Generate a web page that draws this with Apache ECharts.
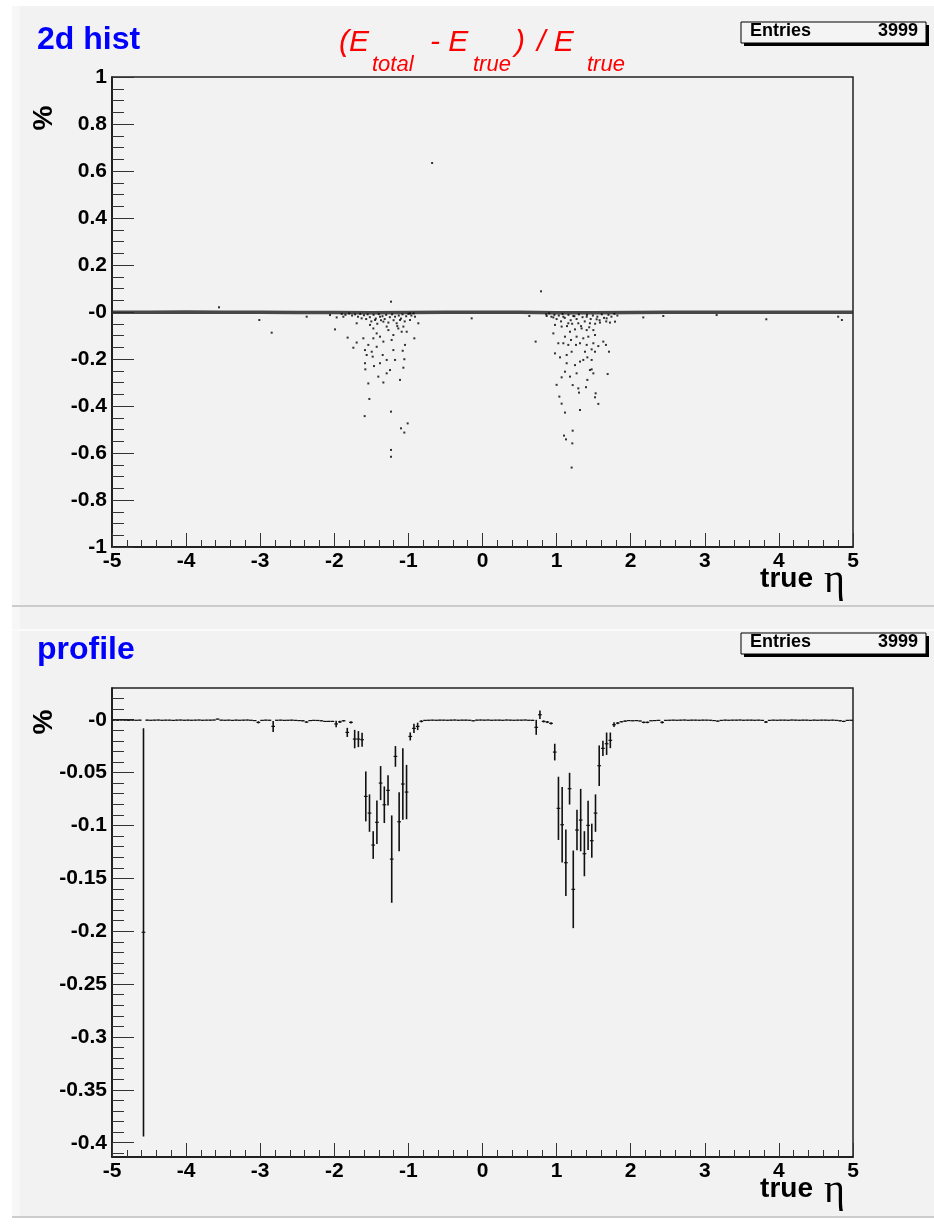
<!DOCTYPE html>
<html>
<head>
<meta charset="utf-8">
<title>2d hist / profile</title>
<script src="https://cdn.jsdelivr.net/npm/echarts@6/dist/echarts.min.js"></script>
<style>
  html, body { margin: 0; padding: 0; background: #ffffff; }
  #chart { width: 934px; height: 1224px; }
</style>
</head>
<body>
<div id="chart"></div>
<script>
// ---- data ----

// profile binning: 200 bins in true eta from -5 to 5
var etaLow = -5;
var binWidth = 0.05;

// profile mean per bin (20 bins per row)
var profileMean = [
  -0.0004,-0.0005,-0.0003,-0.0004,-0.0006,-0.0004,-0.0005,-0.0004,-0.2010,-0.0004,-0.0005,-0.0004,-0.0003,-0.0005,-0.0004,-0.0004,-0.0006,-0.0004,-0.0003,-0.0005,
  -0.0004,-0.0005,-0.0004,-0.0003,-0.0005,-0.0004,-0.0004,-0.0003, 0.0006,-0.0004,-0.0005,-0.0004,-0.0006,-0.0004,-0.0005,-0.0004,-0.0003,-0.0005,-0.0008,-0.0025,
  -0.0006,-0.0004,-0.0005,-0.0063,-0.0005,-0.0004,-0.0006,-0.0005,-0.0004,-0.0006,-0.0008,-0.0010,-0.0022,-0.0008,-0.0006,-0.0007,-0.0010,-0.0016,-0.0016,-0.0016,
  -0.0040,-0.0020,-0.0010,-0.0120,-0.0025,-0.0183,-0.0183,-0.0189,-0.0725,-0.0883,-0.1185,-0.0970,-0.0599,-0.0804,-0.0668,-0.1318,-0.0347,-0.0965,-0.0608,-0.0684,
  -0.0158,-0.0082,-0.0063,-0.0015,-0.0006,-0.0005,-0.0004,-0.0005,-0.0004,-0.0004,-0.0005,-0.0004,-0.0003,-0.0005,-0.0004,-0.0004,-0.0005,-0.0010,-0.0004,-0.0003,
  -0.0004,-0.0003,-0.0005,-0.0004,-0.0004,-0.0005,-0.0003,-0.0004,-0.0005,-0.0004,-0.0004,-0.0003,-0.0005,-0.0006,-0.0072, 0.0047,-0.0016,-0.0022,-0.0035,-0.0306,
  -0.0838,-0.0993,-0.1352,-0.0652,-0.1604,-0.1043,-0.0949,-0.1267,-0.0999,-0.1144,-0.0883,-0.0435,-0.0271,-0.0227,-0.0195,-0.0047,-0.0032,-0.0019,-0.0013,-0.0008,
  -0.0010,-0.0008,-0.0012,-0.0025,-0.0025,-0.0010,-0.0008,-0.0006,-0.0025,-0.0006,-0.0005,-0.0004,-0.0005,-0.0004,-0.0003,-0.0005,-0.0004,-0.0004,-0.0005,-0.0004,
  -0.0004,-0.0005,-0.0008,-0.0013,-0.0006,-0.0004,-0.0005,-0.0004,-0.0004,-0.0003,-0.0005,-0.0004,-0.0004,-0.0005,-0.0004,-0.0006,-0.0022,-0.0006,-0.0004,-0.0005,
  -0.0004,-0.0004,-0.0005,-0.0003,-0.0004,-0.0005,-0.0004,-0.0004,-0.0006,-0.0004,-0.0005,-0.0004,-0.0004,-0.0005,-0.0004,-0.0006,-0.0010,-0.0016,-0.0006,-0.0005
];

// error on the mean per bin
var profileErr = [
  0.0003,0.0003,0.0003,0.0003,0.0003,0.0003,0.0003,0.0003,0.1930,0.0003,0.0003,0.0003,0.0003,0.0003,0.0003,0.0003,0.0003,0.0003,0.0003,0.0003,
  0.0003,0.0003,0.0003,0.0003,0.0003,0.0003,0.0003,0.0003,0.0003,0.0003,0.0003,0.0003,0.0003,0.0003,0.0003,0.0003,0.0003,0.0003,0.0003,0.0010,
  0.0003,0.0003,0.0003,0.0052,0.0003,0.0003,0.0003,0.0003,0.0003,0.0003,0.0004,0.0004,0.0008,0.0004,0.0003,0.0003,0.0004,0.0005,0.0005,0.0005,
  0.0030,0.0010,0.0006,0.0043,0.0010,0.0087,0.0076,0.0066,0.0236,0.0177,0.0131,0.0205,0.0161,0.0173,0.0142,0.0413,0.0098,0.0279,0.0339,0.0257,
  0.0038,0.0044,0.0035,0.0010,0.0003,0.0003,0.0003,0.0003,0.0003,0.0003,0.0003,0.0003,0.0003,0.0003,0.0003,0.0003,0.0003,0.0004,0.0003,0.0003,
  0.0003,0.0003,0.0003,0.0003,0.0003,0.0003,0.0003,0.0003,0.0003,0.0003,0.0003,0.0003,0.0003,0.0005,0.0071,0.0041,0.0010,0.0010,0.0010,0.0079,
  0.0299,0.0358,0.0315,0.0150,0.0367,0.0192,0.0295,0.0213,0.0232,0.0161,0.0177,0.0192,0.0071,0.0106,0.0074,0.0022,0.0010,0.0006,0.0005,0.0004,
  0.0003,0.0003,0.0003,0.0008,0.0008,0.0003,0.0003,0.0003,0.0010,0.0003,0.0003,0.0003,0.0003,0.0003,0.0003,0.0003,0.0003,0.0003,0.0003,0.0003,
  0.0003,0.0003,0.0003,0.0005,0.0003,0.0003,0.0003,0.0003,0.0003,0.0003,0.0003,0.0003,0.0003,0.0003,0.0003,0.0003,0.0010,0.0003,0.0003,0.0003,
  0.0003,0.0003,0.0003,0.0003,0.0003,0.0003,0.0003,0.0003,0.0003,0.0003,0.0003,0.0003,0.0003,0.0003,0.0003,0.0003,0.0004,0.0006,0.0003,0.0003
];

// 2d hist: the dense core of entries sitting on zero
var bandEta = [-5, -4.5, -4, -3.5, -3, -2.5, -2, -1.5, -1, -0.5, 0, 0.5, 1, 1.5, 2, 2.5, 3, 3.5, 4, 4.5, 5];
var bandVal = [-0.001, -0.001, 0, -0.001, -0.001, -0.002, -0.002, -0.003, -0.002, -0.001, -0.001, -0.001, -0.003, -0.003, -0.002, -0.001, -0.001, -0.001, -0.001, -0.001, -0.001];

// 2d hist: entries away from the core [eta, value]
var scatterPts = [
  [-0.68, 0.634], [0.79, 0.088], [-1.235, 0.044], [-3.556, 0.02], [-3.012, -0.034], [-2.845, -0.088],
  [-2.373, -0.02], [-1.991, -0.074], [-0.146, -0.027], [-0.92, -0.112], [-1.82, -0.109],
  [-1.743, -0.152], [-1.698, -0.13], [-1.586, -0.162], [-1.563, -0.183], [-1.581, -0.244], [-1.541, -0.304],
  [-1.527, -0.37], [-1.59, -0.443], [-1.235, -0.424], [-1.235, -0.587], [-1.235, -0.616], [-1.1, -0.495],
  [-1.055, -0.513], [-1.01, -0.474], [-1.068, -0.237], [-1.055, -0.201], [-1.113, -0.289], [-1.338, -0.3],
  [-1.293, -0.261], [-1.406, -0.275], [-1.464, -0.23], [-1.482, -0.19], [-1.347, -0.183], [-1.293, -0.204],
  [-1.203, -0.162], [-1.077, -0.165], [-1.046, -0.14], [-1.541, -0.14], [-1.608, -0.112], [-1.473, -0.112],
  [-1.428, -0.091], [-1.338, -0.126], [-1.226, -0.119], [-1.203, -0.098], [-1.091, -0.084], [-1.023, -0.084],
  [-1.338, -0.041], [-1.293, -0.062], [-1.158, -0.048], [-1.113, -0.034], [-1.068, -0.062], [-1.383, -0.02],
  [-1.45, -0.034], [-1.518, -0.055], [-1.631, -0.027], [-1.698, -0.048], [-1.878, -0.02], [-1.968, -0.023],
  [-2.058, -0.013], [-0.978, -0.034], [-0.866, -0.048], [-0.911, -0.02], [-1.473, -0.07], [-1.428, -0.148],
  [-1.383, -0.105], [-1.495, -0.169], [-1.586, -0.218], [-1.248, -0.247], [-1.18, -0.204], [-1.383, -0.218],
  [-1.27, -0.077], [-1.136, -0.07], [-0.978, -0.006],
  [-1.9, -0.008], [-1.85, -0.012], [-1.8, -0.006], [-1.76, -0.015], [-1.72, -0.01], [-1.68, -0.02],
  [-1.65, -0.008], [-1.6, -0.014], [-1.57, -0.03], [-1.55, -0.01], [-1.52, -0.022], [-1.5, -0.04],
  [-1.47, -0.012], [-1.44, -0.028], [-1.42, -0.05], [-1.4, -0.009], [-1.37, -0.035], [-1.35, -0.018],
  [-1.32, -0.03], [-1.3, -0.012], [-1.27, -0.045], [-1.25, -0.022], [-1.22, -0.01], [-1.2, -0.035],
  [-1.18, -0.02], [-1.15, -0.06], [-1.13, -0.015], [-1.1, -0.028], [-1.08, -0.01], [-1.05, -0.04],
  [-1.03, -0.018], [-1.0, -0.008], [-0.96, -0.015], [-0.93, -0.006],
  [0.717, -0.126], [0.956, -0.091], [0.978, -0.176], [1.0, -0.31], [1.037, -0.36], [1.068, -0.39],
  [1.113, -0.428], [1.1, -0.526], [1.127, -0.542], [1.217, -0.505], [1.212, -0.559], [1.203, -0.662],
  [1.316, -0.417], [1.302, -0.343], [1.293, -0.325], [1.397, -0.32], [1.415, -0.289], [1.527, -0.346],
  [1.518, -0.363], [1.563, -0.391], [1.689, -0.264], [1.707, -0.169], [1.666, -0.14], [1.63, -0.126],
  [1.473, -0.244], [1.496, -0.261], [1.45, -0.247], [1.217, -0.311], [1.181, -0.275], [1.068, -0.278],
  [1.113, -0.254], [1.27, -0.261], [1.136, -0.218], [1.248, -0.226], [1.316, -0.211], [1.36, -0.204],
  [1.415, -0.193], [1.473, -0.204], [1.046, -0.193], [1.136, -0.183], [1.203, -0.169], [1.383, -0.169],
  [1.473, -0.159], [1.518, -0.169], [1.563, -0.145], [1.496, -0.133], [1.406, -0.14], [1.316, -0.133],
  [1.262, -0.14], [1.158, -0.14], [1.091, -0.133], [1.023, -0.133], [1.113, -0.105], [1.194, -0.119],
  [1.27, -0.105], [1.36, -0.112], [1.428, -0.105], [1.518, -0.098], [1.496, -0.077], [1.406, -0.077],
  [1.338, -0.07], [1.248, -0.074], [1.181, -0.084], [1.068, -0.062], [0.978, -0.055], [1.158, -0.048],
  [1.293, -0.048], [1.45, -0.048], [1.585, -0.045], [1.72, -0.045], [1.788, -0.041], [1.675, -0.027],
  [1.54, -0.031], [1.406, -0.02], [1.226, -0.017], [1.091, -0.02], [0.956, -0.023], [0.866, -0.017],
  [0.632, -0.017], [2.17, -0.023], [2.44, -0.017], [3.83, -0.031], [4.85, -0.034], [4.8, -0.02], [3.16, -0.013],
  [0.86, -0.01], [0.9, -0.006], [0.93, -0.02], [0.97, -0.012], [1.0, -0.03], [1.03, -0.015],
  [1.06, -0.04], [1.08, -0.008], [1.11, -0.025], [1.14, -0.06], [1.16, -0.012], [1.19, -0.035],
  [1.21, -0.05], [1.24, -0.018], [1.27, -0.03], [1.3, -0.01], [1.33, -0.06], [1.35, -0.022],
  [1.38, -0.04], [1.41, -0.012], [1.44, -0.065], [1.46, -0.03], [1.49, -0.015], [1.52, -0.05],
  [1.55, -0.02], [1.58, -0.035], [1.61, -0.01], [1.64, -0.025], [1.67, -0.04], [1.7, -0.012],
  [1.74, -0.02], [1.78, -0.008], [1.82, -0.015]
];

// tick labels of the profile y axis
var profileMajorTicks = [0, -0.05, -0.1, -0.15, -0.2, -0.25, -0.3, -0.35, -0.4];
var entries = 3999;

// ---- chart ----
var FONT = '"Liberation Sans", Arial, Helvetica, sans-serif';
var chart = echarts.init(document.getElementById('chart'));

// minor ticks every 0.01 between the labelled ones
var profileMinorTicks = [];
for (var k = 2; k >= -41; k--) {
  if (k % 5 !== 0) profileMinorTicks.push(k / 100);
}

var bandData = bandEta.map(function (x, i) { return [x, bandVal[i]]; });
var profileData = profileMean.map(function (m, i) {
  return [etaLow + (i + 0.5) * binWidth, m, profileErr[i]];
});

function xAxisFor(gi) {
  return {
    type: 'value', gridIndex: gi, position: 'bottom', min: -5, max: 5, interval: 1,
    axisLine: { onZero: false, lineStyle: { color: '#111', width: 1.5 } },
    axisTick: { inside: true, length: 14, lineStyle: { color: '#333', width: 1 } },
    minorTick: { show: true, splitNumber: 5, length: 7, lineStyle: { color: '#333', width: 1 } },
    axisLabel: { color: '#000', fontFamily: FONT, fontWeight: 'bold', fontSize: 21, margin: 4 },
    splitLine: { show: false }
  };
}

function profileLabel(v) {
  if (Math.abs(v) < 1e-9) return '-0';
  return String(parseFloat(v.toFixed(2)));
}

// pieces of a red title with subscripts
function redText(x, y, text, sub) {
  return {
    type: 'text', x: x, y: y, z: 10,
    style: { text: text, font: 'italic ' + (sub ? 22 : 30) + 'px ' + FONT, fill: '#ff0000', verticalAlign: 'middle' }
  };
}

function statBox(top) {
  return [
    { type: 'rect', shape: { x: 744, y: top + 3, width: 185, height: 21 }, style: { fill: '#000' }, z: 10 },
    { type: 'rect', shape: { x: 741, y: top, width: 185, height: 21 }, style: { fill: '#f4f4f4', stroke: '#000', lineWidth: 1 }, z: 11 },
    { type: 'text', x: 750, y: top + 9, style: { text: 'Entries', font: 'bold 18px ' + FONT, fill: '#000', verticalAlign: 'middle' }, z: 12 },
    { type: 'text', x: 918, y: top + 9, style: { text: String(entries), font: 'bold 18px ' + FONT, fill: '#000', align: 'right', verticalAlign: 'middle' }, z: 12 }
  ];
}

function etaTitle(y) {
  return [
    { type: 'text', x: 813, y: y, style: { text: 'true', font: 'bold 28px ' + FONT, fill: '#000', align: 'right', verticalAlign: 'middle' }, z: 10 },
    { type: 'text', x: 824, y: y + 2, style: { text: 'η', font: '40px "Liberation Serif", "DejaVu Serif", serif', fill: '#000', verticalAlign: 'middle' }, z: 10 }
  ];
}

var option = {
  animation: false,
  backgroundColor: '#ffffff',
  textStyle: { fontFamily: FONT },
  grid: [
    { left: 112, top: 77, width: 741, height: 470, show: true, borderColor: '#222', borderWidth: 1.5, backgroundColor: 'transparent' },
    { left: 112, top: 688, width: 741, height: 469, show: true, borderColor: '#222', borderWidth: 1.5, backgroundColor: 'transparent' }
  ],
  xAxis: [xAxisFor(0), xAxisFor(1)],
  yAxis: [
    {
      type: 'value', gridIndex: 0, position: 'left', min: -1, max: 1, interval: 0.2,
      axisLine: { onZero: false, lineStyle: { color: '#111', width: 1.5 } },
      axisTick: { inside: true, length: 22, lineStyle: { color: '#333', width: 1 } },
      minorTick: { show: true, splitNumber: 4, length: 12, lineStyle: { color: '#333', width: 1 } },
      axisLabel: {
        color: '#000', fontFamily: FONT, fontWeight: 'bold', fontSize: 21, margin: 5,
        formatter: function (v) { return Math.abs(v) < 1e-9 ? '-0' : String(parseFloat(v.toFixed(1))); }
      },
      splitLine: { show: false }
    },
    {
      type: 'value', gridIndex: 1, position: 'left', min: -0.4135, max: 0.03,
      axisLine: { onZero: false, lineStyle: { color: '#111', width: 1.5 } },
      axisTick: { inside: true, length: 22, customValues: profileMajorTicks, lineStyle: { color: '#333', width: 1 } },
      axisLabel: {
        color: '#000', fontFamily: FONT, fontWeight: 'bold', fontSize: 21, margin: 5,
        customValues: profileMajorTicks, formatter: profileLabel
      },
      splitLine: { show: false }
    },
    {
      type: 'value', gridIndex: 1, position: 'left', offset: 0, min: -0.4135, max: 0.03,
      axisLine: { show: false, onZero: false },
      axisTick: { inside: true, length: 12, customValues: profileMinorTicks, lineStyle: { color: '#333', width: 1 } },
      axisLabel: { show: false },
      splitLine: { show: false }
    }
  ],
  series: [
    {
      type: 'line', xAxisIndex: 0, yAxisIndex: 0, data: bandData,
      showSymbol: false, symbol: 'none',
      lineStyle: { color: '#2a2a2a', width: 3.5, opacity: 0.85 },
      z: 2
    },
    {
      type: 'scatter', xAxisIndex: 0, yAxisIndex: 0, data: scatterPts,
      symbol: 'rect', symbolSize: 2,
      itemStyle: { color: '#000' },
      z: 3
    },
    {
      type: 'custom', xAxisIndex: 1, yAxisIndex: 1, data: profileData,
      encode: { x: 0, y: 1 },
      clip: true,
      renderItem: function (params, api) {
        var c = api.value(0), m = api.value(1), e = api.value(2);
        var l = api.coord([c - binWidth / 2, m]);
        var r = api.coord([c + binWidth / 2, m]);
        var t = api.coord([c, m + e]);
        var b = api.coord([c, m - e]);
        return {
          type: 'group',
          children: [
            { type: 'line', shape: { x1: l[0], y1: l[1], x2: r[0], y2: r[1] }, style: { stroke: '#111', lineWidth: 1.2 } },
            { type: 'line', shape: { x1: t[0], y1: t[1], x2: b[0], y2: b[1] }, style: { stroke: '#111', lineWidth: 1.6 } }
          ]
        };
      }
    }
  ],
  graphic: [
    // pads
    { type: 'rect', shape: { x: 12, y: 6, width: 922, height: 1212 }, style: { fill: '#f2f2f2' }, z: -10 },
    { type: 'rect', shape: { x: 12, y: 6, width: 8, height: 1212 }, style: { fill: '#f7f7f7' }, z: -9 },
    { type: 'line', shape: { x1: 12, y1: 606, x2: 934, y2: 606 }, style: { stroke: '#cccccc', lineWidth: 2 }, z: -9 },
    { type: 'line', shape: { x1: 12, y1: 630, x2: 934, y2: 630 }, style: { stroke: '#fafafa', lineWidth: 2 }, z: -9 },
    { type: 'line', shape: { x1: 12, y1: 1217, x2: 934, y2: 1217 }, style: { stroke: '#cccccc', lineWidth: 2 }, z: -9 },

    // pad titles
    { type: 'text', x: 37, y: 40, style: { text: '2d hist', font: 'bold 32px ' + FONT, fill: '#0000ff', verticalAlign: 'middle' }, z: 10 },
    { type: 'text', x: 37, y: 650, style: { text: 'profile', font: 'bold 32px ' + FONT, fill: '#0000ff', verticalAlign: 'middle' }, z: 10 },

    // (E_total - E_true) / E_true
    redText(339, 43, '(E', false),
    redText(372, 65, 'total', true),
    redText(430, 43, '- E', false),
    redText(473, 65, 'true', true),
    redText(515, 43, ')', false),
    redText(537, 43, '/ E', false),
    redText(587, 65, 'true', true),

    // axis titles
    { type: 'text', x: 44, y: 118, rotation: Math.PI / 2, style: { text: '%', font: 'bold 28px ' + FONT, fill: '#000', align: 'center', verticalAlign: 'middle' }, z: 10 },
    { type: 'text', x: 44, y: 722, rotation: Math.PI / 2, style: { text: '%', font: 'bold 28px ' + FONT, fill: '#000', align: 'center', verticalAlign: 'middle' }, z: 10 }
  ].concat(statBox(22), statBox(633), etaTitle(579), etaTitle(1189))
};

chart.setOption(option);
</script>
</body>
</html>
